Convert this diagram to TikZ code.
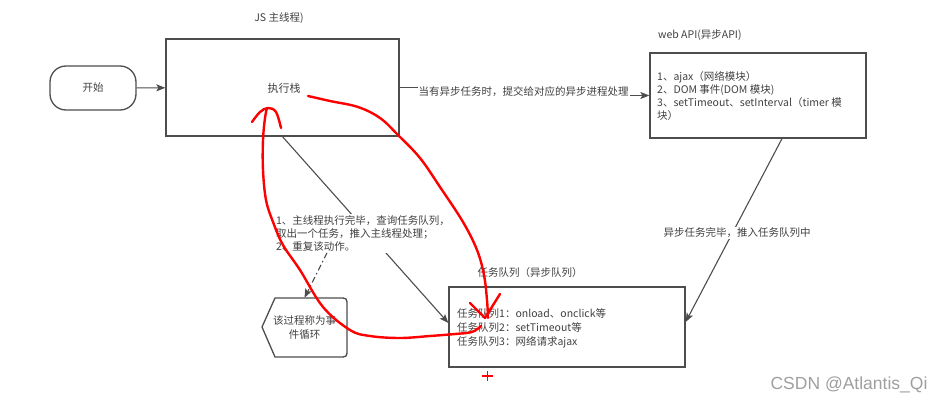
\documentclass[tikz,border=0pt]{standalone}
\usepackage{fontspec}
\setmainfont{Noto Sans CJK SC}
\newfontfamily\wmfont{Liberation Sans}
\usetikzlibrary{arrows.meta}
\definecolor{edgec}{HTML}{4D4D4D}
\definecolor{txtc}{HTML}{404040}
\begin{document}
\begin{tikzpicture}[x=1pt,y=-1pt,
  box/.style={draw=edgec, line width=1.3pt, inner sep=0pt},
  lbl/.style={text=txtc, font=\fontsize{10.5}{13.3}\selectfont, inner sep=0pt},
  elbl/.style={lbl, fill=white, inner sep=1pt},
  conn/.style={draw=edgec, line width=1.1pt, -{Stealth[length=9pt,width=7pt,inset=2pt]}},
  redink/.style={draw=red, line width=2.4pt, line cap=round, line join=round}]
\useasboundingbox (0,0) rectangle (946,404);

% nodes
\node[box, lbl, rounded corners=16pt, minimum width=86pt, minimum height=44pt] (start) at (93,88) {开始};
\node[box, minimum width=233pt, minimum height=97pt] (main) at (282.5,87.5) {};
\node[lbl, font=\fontsize{11}{13}\selectfont] (stack) at (284,88) {执行栈};
\node[lbl] (mainlbl) at (279,18) {JS 主线程)};

\node[box, minimum width=216pt, minimum height=85pt] (web) at (758,95.5) {};
\node[lbl, anchor=west] (weblbl) at (658,35) {web API(异步API)};
\node[lbl, anchor=west, align=left] (webtxt) at (657,96) {1、ajax（网络模块）\\2、DOM 事件(DOM 模块)\\3、setTimeout、setInterval（timer 模\\块）};

\node[box, minimum width=236pt, minimum height=80pt] (queue) at (567,327) {};
\node[lbl] (queuelbl) at (530,273) {任务队列（异步队列）};
\node[lbl, anchor=west, align=left, font=\fontsize{10.5}{14}\selectfont] (queuetxt) at (457,328) {任务队列1：onload、onclick等\\任务队列2：setTimeout等\\任务队列3：网络请求ajax};

\node[lbl, align=center, minimum width=85pt, minimum height=59pt] (evloop) at (304.5,327.5) {该过程称为事\\件循环};
\draw[draw=edgec, line width=1.3pt] (262,327) -- (275,298) -- (339,298) .. controls (347,298) .. (347,306) -- (347,349) .. controls (347,357) .. (339,357) -- (275,357) -- cycle;

% connectors
\draw[conn] (start) -- (main);
\draw[conn] (main.east) -- (524,87.5) -- (524,95.5) -- (web.west);
\node[elbl] (lab1) at (523.5,92) {当有异步任务时，提交给对应的异步进程处理};

\draw[conn] ([xshift=24pt]web.south) -- ([yshift=5pt]queue.east);
\node[elbl] (lab2) at (737,233) {异步任务完毕，推入任务队列中};

\draw[conn] (main.south) -- ([yshift=4pt]queue.west);
\node[elbl, align=left] (lab3) at (363,233.5) {1、主线程执行完毕，查询任务队列，\\取出一个任务，推入主线程处理；\\2、重复该动作。};

\draw[draw=edgec, line width=1.1pt, dash pattern=on 6pt off 3pt on 1.5pt off 3pt, -{Stealth[length=9pt,width=7pt,inset=2pt]}] ([xshift=-36pt]lab3.south) -- (evloop.north);

% red freehand marks
\draw[redink] plot[smooth, tension=0.6] coordinates {(308,96) (330,101) (358,107) (380,118) (398,135) (420,158) (440,187) (463,222) (477,250) (484,275) (487,300) (488,318)};
\draw[redink] (470,303) -- (485,318) -- (500,294);
\draw[redink] plot[smooth, tension=0.6] coordinates {(481,326) (472,332) (455,334) (430,336) (400,338) (370,336) (350,330) (323,307) (300,270) (283,245) (273,222) (266,200) (263,170) (263,140) (265,118) (267,108)};
\draw[redink] plot[smooth, tension=0.6] coordinates {(252,122) (260,112) (268,108) (276,112) (281,128)};
\draw[red, line width=1.8pt] (482,376) -- (493,376) (487.5,371) -- (487.5,381);

\node[text=gray!75, font=\wmfont\fontsize{17.5}{18}\selectfont, inner sep=0pt] (wm) at (849,385) {CSDN @Atlantis\_Qi};
\end{tikzpicture}
\end{document}
